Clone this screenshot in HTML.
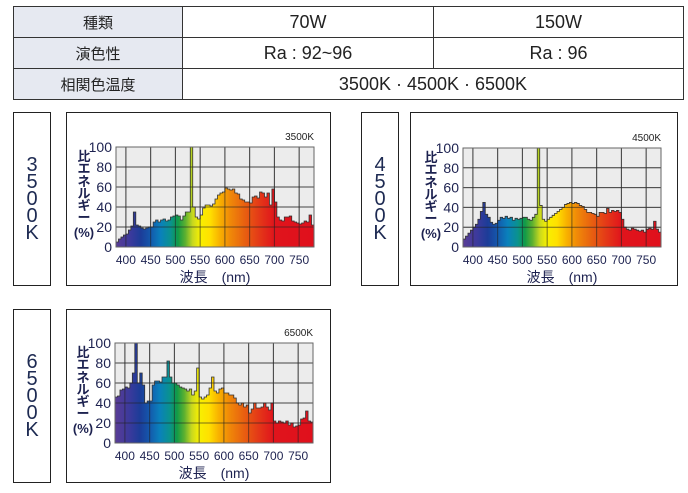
<!DOCTYPE html>
<html><head><meta charset="utf-8">
<style>
body{margin:0;background:#fff;width:688px;height:493px;overflow:hidden;font-family:"Liberation Sans","Noto Sans CJK JP",sans-serif;color:#222}
table{position:absolute;left:13px;top:6px;border-collapse:collapse;width:671px;height:91px}
td{border:1px solid #333;text-align:center;font-size:18px;color:#222;padding:0;height:30px}
td.h{background:#e6e9f1;width:168px;font-size:15px}
td.c2{width:250px}
.lab{position:absolute;border:1px solid #222;width:36px;display:flex;align-items:center;justify-content:center;font-size:20px;line-height:17px;color:#1d2a52;text-align:center}
.box{position:absolute;border:1px solid #222}
svg{position:absolute;left:0;top:0}
</style></head><body>
<table>
<tr><td class="h">種類</td><td class="c2">70W</td><td>150W</td></tr>
<tr><td class="h">演色性</td><td>Ra : 92~96</td><td>Ra : 96</td></tr>
<tr><td class="h">相関色温度</td><td colspan="2">3500K · 4500K · 6500K</td></tr>
</table>
<div class="lab" style="left:13px;top:112px;height:172px">3<br>5<br>0<br>0<br>K</div>
<div class="lab" style="left:361px;top:112px;height:172px">4<br>5<br>0<br>0<br>K</div>
<div class="lab" style="left:13px;top:309px;height:172px">6<br>5<br>0<br>0<br>K</div>
<div class="box" style="left:66px;top:112px;width:263px;height:172px"></div>
<div class="box" style="left:410px;top:112px;width:266px;height:172px"></div>
<div class="box" style="left:66px;top:309px;width:263px;height:172px"></div>
<svg id="s" width="688" height="493"></svg>
<script>
const wavelengths=[380,385,390,395,400,405,410,415,420,425,430,435,440,445,450,455,460,465,470,475,480,485,490,495,500,505,510,515,520,525,530,535,540,545,550,555,560,565,570,575,580,585,590,595,600,605,610,615,620,625,630,635,640,645,650,655,660,665,670,675,680,685,690,695,700,705,710,715,720,725,730,735,740,745,750,755,760,765,770,775];
const values3500=[5,8,10,12,13,17,21,35,22,21,19,18,19,20,20,25,27,25,27,28,26,27,30,31,32,31,27,31,35,35,100,40,30,28,32,39,42,42,41,43,48,52,54,55,59,58,57,58,54,53,48,47,45,45,44,50,51,49,55,54,50,54,42,58,45,30,27,26,30,30,31,26,25,24,23,24,26,25,32,22];
const values4500=[8,11,14,17,20,23,28,36,45,33,30,25,23,24,27,30,29,31,29,30,27,29,28,29,30,30,28,27,30,33,100,42,28,26,28,30,32,34,36,38,40,43,44,45,44,45,44,42,41,38,35,35,34,33,31,35,35,34,39,35,37,36,37,35,28,20,18,17,19,18,17,16,17,15,18,19,18,26,18,15];
const values6500=[46,47,53,54,56,55,60,70,100,60,70,58,40,42,42,58,62,62,61,66,66,82,66,60,60,58,56,55,54,52,54,48,52,75,46,44,46,48,55,66,52,50,54,55,50,50,48,48,45,40,38,40,36,38,30,34,40,35,35,36,40,36,33,40,22,20,22,21,20,22,18,20,16,17,18,24,25,32,22,21];
const yTicks=[0,20,40,60,80,100];
const xTicks=[400,450,500,550,600,650,700,750];
const charts=[
 {name:'3500k',title:'3500K',vals:values3500,x0:116,x1:314,y0:247,y1:147},
 {name:'4500k',title:'4500K',vals:values4500,x0:463,x1:661,y0:247,y1:148},
 {name:'6500k',title:'6500K',vals:values6500,x0:115,x1:313,y0:443,y1:343}
];
const NS='http://www.w3.org/2000/svg';
const svg=document.getElementById('s');
function mk(tag,attrs,parent){const e=document.createElementNS(NS,tag);for(const k in attrs)e.setAttribute(k,attrs[k]);(parent||svg).appendChild(e);return e;}
const stops=[[380,'#5a3c96'],[410,'#3a3a9c'],[430,'#1c3c98'],[450,'#1458ac'],[470,'#0a80bc'],[490,'#0a9290'],[505,'#109a48'],[520,'#5cb030'],[535,'#c8d820'],[550,'#f8f000'],[570,'#ffe000'],[590,'#f8b000'],[610,'#f08a08'],[640,'#e86010'],[670,'#e43818'],[700,'#e0141c'],[780,'#e0101c']];
charts.forEach((c,ci)=>{
 const xs=v=>c.x0+(v-380)/400*(c.x1-c.x0);
 const ys=v=>c.y0-v/100*(c.y0-c.y1);
 const g=mk('g',{});
 
 
 mk('rect',{x:c.x0,y:c.y1,width:c.x1-c.x0,height:c.y0-c.y1,fill:'#ececec'},g);
 yTicks.forEach(t=>{if(t>0&&t<100)mk('line',{x1:c.x0,x2:c.x1,y1:ys(t),y2:ys(t),stroke:'#777','stroke-width':1},g);});
 xTicks.forEach(t=>mk('line',{x1:xs(t),x2:xs(t),y1:c.y1,y2:c.y0,stroke:'#777','stroke-width':1},g));
 const gid='grad'+ci;
 const lg=mk('linearGradient',{id:gid,gradientUnits:'userSpaceOnUse',x1:xs(380),x2:xs(780),y1:0,y2:0},g);
 stops.forEach(s=>mk('stop',{offset:((s[0]-380)/400),'stop-color':s[1]},lg));
 let d='M'+xs(380)+','+ys(0);
 wavelengths.forEach((w,i)=>{const y=ys(Math.min(c.vals[i],100));d+=' L'+xs(w)+','+y+' L'+xs(w+5)+','+y;});
 d+=' L'+xs(780)+','+ys(0)+' Z';
 const p=mk('path',{d:d,fill:'url(#'+gid+')',stroke:'#333','stroke-width':0.8},g);
 
 
 yTicks.forEach(t=>{if(t>0&&t<100)mk('line',{x1:c.x0,x2:c.x1,y1:ys(t),y2:ys(t),stroke:'#222','stroke-width':1,'stroke-opacity':0.6},g);});
 xTicks.forEach(t=>mk('line',{x1:xs(t),x2:xs(t),y1:c.y1,y2:c.y0,stroke:'#222','stroke-width':1,'stroke-opacity':0.6},g));
 mk('rect',{x:c.x0,y:c.y1,width:c.x1-c.x0,height:c.y0-c.y1,fill:'none',stroke:'#666','stroke-width':1},g);
 yTicks.forEach(t=>{const tx=mk('text',{x:c.x0-4,y:ys(t)+5,'text-anchor':'end','font-size':14,fill:'#1d2250'},g);tx.textContent=t;
  
  });
 xTicks.forEach(t=>{const tx=mk('text',{x:xs(t),y:c.y0+17,'text-anchor':'middle','font-size':12,fill:'#1d2250'},g);tx.textContent=t;
  
  });
 const tt=mk('text',{x:c.x1,y:c.y1-7,'text-anchor':'end','font-size':10,fill:'#222'},g);tt.textContent=c.title;
 
 
 const xt=mk('text',{x:(c.x0+c.x1)/2,y:c.y0+35,'text-anchor':'middle','font-size':14,fill:'#1d2250'},g);xt.textContent='波長　(nm)';
 
 
 const yc=c.x0-32;const base=c.y1;
 const chars=[['比',14],['エ',26],['ネ',39],['ル',51],['ギ',63],['ー',75],['(%)',90]];
 const yt=mk('text',{'text-anchor':'middle','font-size':13,fill:'#1d2250','font-weight':'bold'},g);
 
 
 chars.forEach(ch=>{const ts=mk('tspan',{x:yc,y:base+ch[1]},yt);ts.textContent=ch[0];});
});
</script>
</body></html>
